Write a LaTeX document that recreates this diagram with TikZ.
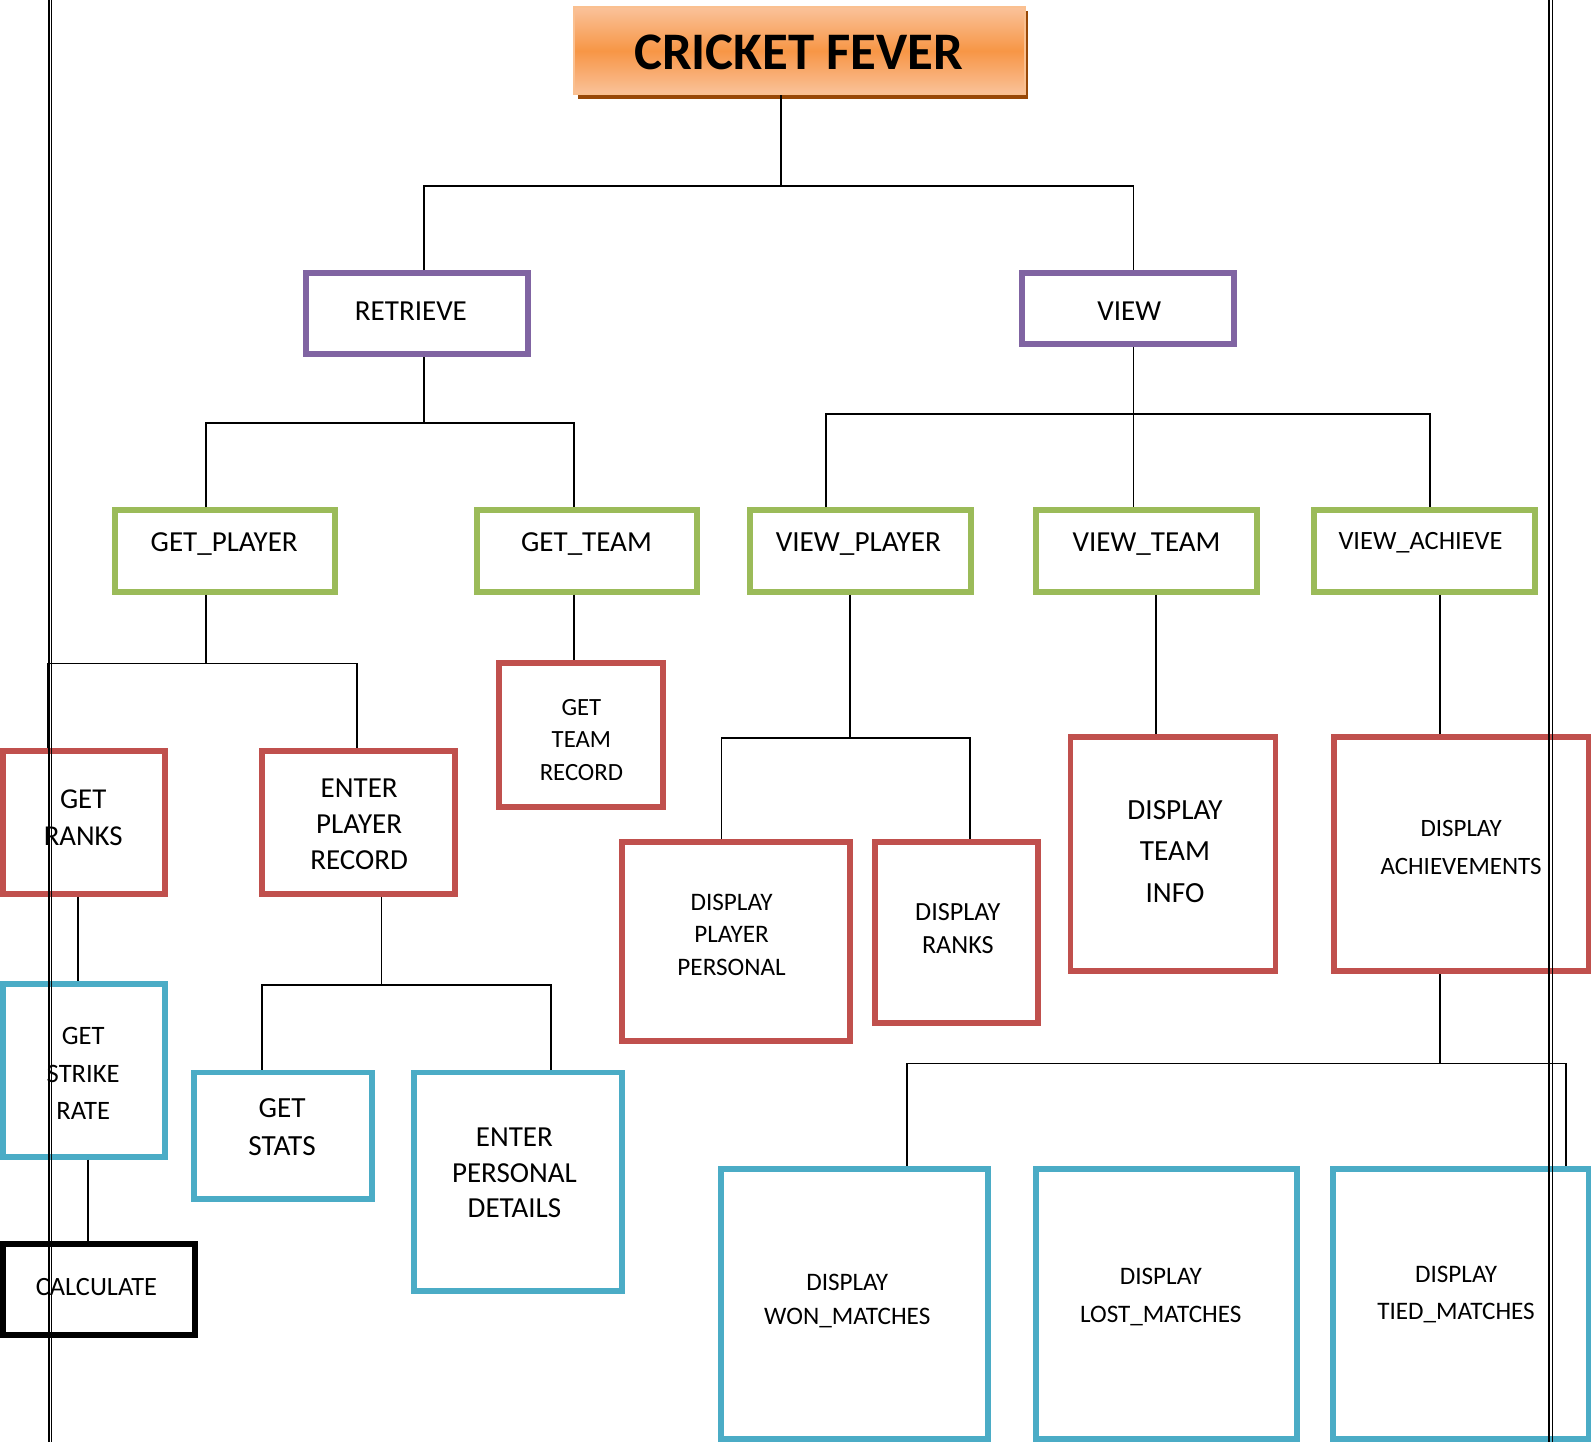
\documentclass[tikz,border=0pt]{standalone}
\usepackage{fontspec}
\setmainfont{Carlito}
\usetikzlibrary{fit}
\definecolor{cpurple}{HTML}{8064A2}
\definecolor{cgreen}{HTML}{9BBB59}
\definecolor{cred}{HTML}{C0504D}
\definecolor{cblue}{HTML}{4BACC6}
\definecolor{orL}{HTML}{FAC29A}
\definecolor{orM}{HTML}{F79646}
\definecolor{orB}{HTML}{FAC090}
\definecolor{orS}{HTML}{984807}
\begin{document}
\begin{tikzpicture}[x=0.5pt,y=-0.5pt,
  box/.style={draw=#1, line width=2.9pt, inner sep=0pt},
  conn/.style={draw=black, line width=0.85pt},
  lbl/.style={align=center, inner sep=0pt},
  fsz/.style 2 args={font=\fontsize{#1}{#2}\selectfont},
  pageline/.style={draw=black, line width=#1}]
\useasboundingbox (0,0) rectangle (1568,1421);

% title
\fill[orS] (570,11) rectangle (1013,98);
\node[fit={(566,7)(1010,93)}, inner sep=0pt, draw=orB, line width=1pt,
      top color=orL, bottom color=orL, middle color=orM] (title) {};
\node[lbl, font=\bfseries\fontsize{26}{30}\selectfont] (ttitle) at (787,52) {CRICKET FEVER};

% boxes
\node[box=cpurple, fit={(302,269)(520,349)}] (retrieve) {};
\node[box=cpurple, fit={(1007,269)(1216,339)}] (view) {};
\node[box=cgreen, fit={(113,503)(330,583)}] (getplayer) {};
\node[box=cgreen, fit={(470,503)(687,583)}] (getteam) {};
\node[box=cgreen, fit={(739,503)(957,583)}] (viewplayer) {};
\node[box=cgreen, fit={(1021,503)(1239,583)}] (viewteam) {};
\node[box=cgreen, fit={(1295,503)(1513,583)}] (viewach) {};
\node[box=cred, fit={(3,740)(163,881)}] (getranks) {};
\node[box=cred, fit={(258,740)(448,881)}] (enterplayer) {};
\node[box=cred, fit={(492,653)(653,795)}] (teamrec) {};
\node[box=cred, fit={(613,830)(838,1026)}] (dispplayer) {};
\node[box=cred, fit={(862,830)(1023,1008)}] (dispranks) {};
\node[box=cred, fit={(1055,726)(1257,957)}] (dispteam) {};
\node[box=cred, fit={(1315,726)(1566,957)}] (dispach) {};
\node[box=cblue, fit={(3,970)(163,1140)}] (strike) {};
\node[box=black, fit={(3,1226)(192,1316)}] (calc) {};
\node[box=cblue, fit={(191,1057)(367,1182)}] (getstats) {};
\node[box=cblue, fit={(408,1057)(613,1272)}] (enterpers) {};
\node[box=cblue, fit={(711,1152)(974,1418)}] (won) {};
\node[box=cblue, fit={(1021,1152)(1278,1418)}] (lost) {};
\node[box=cblue, fit={(1314,1152)(1566,1418)}] (tied) {};

% labels
\node[lbl, fsz={14.3}{17.7}] (tretrieve) at (405,307) {RETRIEVE};
\node[lbl, fsz={14.3}{17.7}] (tview) at (1113,307) {VIEW};
\node[lbl, fsz={14.3}{17.7}] (tgetplayer) at (221,536) {GET\_PLAYER};
\node[lbl, fsz={14.3}{17.7}] (tgetteam) at (578,536) {GET\_TEAM};
\node[lbl, fsz={14.4}{17.7}] (tviewplayer) at (846,536) {VIEW\_PLAYER};
\node[lbl, fsz={14.3}{17.7}] (tviewteam) at (1130,536) {VIEW\_TEAM};
\node[lbl, fsz={13}{17}] (tviewach) at (1400,535) {VIEW\_ACHIEVE};
\node[lbl, fsz={14.2}{18}] (tgetranks) at (82,806) {GET\\RANKS};
\node[lbl, fsz={14.3}{17.7}] (tenterplayer) at (354,812) {ENTER\\PLAYER\\RECORD};
\node[lbl, fsz={12.2}{16}] (tteamrec) at (573,729) {GET\\TEAM\\RECORD};
\node[lbl, fsz={12.4}{16}] (tdispplayer) at (721,921) {DISPLAY\\PLAYER\\PERSONAL};
\node[lbl, fsz={12.9}{16.5}] (tdispranks) at (944,915) {DISPLAY\\RANKS};
\node[lbl, fsz={14.4}{20.5}] (tdispteam) at (1158,839) {DISPLAY\\TEAM\\INFO};
\node[lbl, fsz={12.3}{18.5}] (tdispach) at (1440,835) {DISPLAY\\ACHIEVEMENTS};
\node[lbl, fsz={13.1}{18.5}] (tstrike) at (82,1058) {GET\\STRIKE\\RATE};
\node[lbl, fsz={13}{17}] (tcalc) at (95,1268) {CALCULATE};
\node[lbl, fsz={14.4}{19}] (tgetstats) at (278,1111) {GET\\STATS};
\node[lbl, fsz={14.3}{17.5}] (tenterpers) at (507,1156) {ENTER\\PERSONAL\\DETAILS};
\node[lbl, fsz={12.4}{16.5}] (twon) at (835,1282) {DISPLAY\\WON\_MATCHES};
\node[lbl, fsz={12.4}{18.5}] (tlost) at (1144,1278) {DISPLAY\\LOST\_MATCHES};
\node[lbl, fsz={12.4}{18.5}] (ttied) at (1435,1276) {DISPLAY\\TIED\_MATCHES};

% column coordinates
\foreach \c in {47,77,87,203,258,352,376,418,543,566,711,770,814,838,894,956,1117,1139,1215,1409,1419,1543}
  \coordinate (x\c) at (\c,0);
\coordinate (j1) at (770,183);
\coordinate (j2) at (418,417);
\coordinate (j3) at (1117,408);
\coordinate (j4) at (203,654);
\coordinate (j5) at (376,971);
\coordinate (j6) at (838,727);
\coordinate (j7) at (1419,1048);

% connectors
\draw[conn] (title.south -| x770) -- (j1);
\draw[conn] (retrieve.north -| x418) |- (j1) -| (view.north -| x1117);
\draw[conn] (retrieve.south -| x418) -- (j2);
\draw[conn] (getplayer.north -| x203) |- (j2) -| (getteam.north -| x566);
\draw[conn] (view.south -| x1117) -- (viewteam.north -| x1117);
\draw[conn] (viewplayer.north -| x814) |- (j3) -| (viewach.north -| x1409);
\draw[conn] (getplayer.south -| x203) -- (j4);
\draw[conn] (getranks.north -| x47) |- (j4) -| (enterplayer.north -| x352);
\draw[conn] (getranks.south -| x77) -- (strike.north -| x77);
\draw[conn] (strike.south -| x87) -- (calc.north -| x87);
\draw[conn] (enterplayer.south -| x376) -- (j5);
\draw[conn] (getstats.north -| x258) |- (j5) -| (enterpers.north -| x543);
\draw[conn] (getteam.south -| x566) -- (teamrec.north -| x566);
\draw[conn] (viewplayer.south -| x838) -- (j6);
\draw[conn] (dispplayer.north -| x711) |- (j6) -| (dispranks.north -| x956);
\draw[conn] (viewteam.south -| x1139) -- (dispteam.north -| x1139);
\draw[conn] (viewach.south -| x1419) -- (dispach.north -| x1419);
\draw[conn] (dispach.south -| x1419) -- (j7);
\draw[conn] (won.north -| x894) |- (j7) -| (tied.north -| x1543);
\draw[conn] (lost.north -| x1215) -- (lost.north -| x1215 |- j7);

% page margin lines
\draw[pageline=0.75pt] (48.3,0) -- (48.3,1421);
\draw[pageline=0.5pt] (50.9,0) -- (50.9,1421);
\draw[pageline=0.9pt] (1526.2,0) -- (1526.2,1421);
\draw[pageline=0.5pt] (1529.6,0) -- (1529.6,1421);
\end{tikzpicture}
\end{document}
